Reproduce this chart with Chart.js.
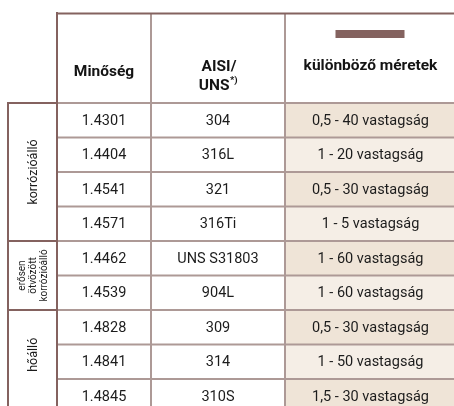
<!DOCTYPE html>
<html>
<head>
<meta charset="utf-8">
<script src="https://cdn.jsdelivr.net/npm/chart.js"></script>
<style>
  html, body { margin: 0; padding: 0; background: #fff; overflow: hidden; }
  canvas { display: block; }
</style>
</head>
<body>
<canvas id="table" width="460" height="420"></canvas>
<script>
// table content
const headers = ["Minőség", "AISI/", "különböző méretek"];
const groups = [["korrózióálló"], ["erősen", "ötvözött", "korrózióálló"], ["hőálló"]];
const groupSizes = [4, 2, 3];
const grades = ["1.4301", "1.4404", "1.4541", "1.4571", "1.4462", "1.4539", "1.4828", "1.4841", "1.4845"];
const aisi = ["304", "316L", "321", "316Ti", "UNS S31803", "904L", "309", "314", "310S"];
const sizes = ["0,5 - 40 vastagság", "1 - 20 vastagság", "0,5 - 30 vastagság", "1 - 5 vastagság",
  "1 - 60 vastagság", "1 - 60 vastagság", "0,5 - 30 vastagság", "1 - 50 vastagság", "1,5 - 30 vastagság"];

// layout
const colWidths = [49, 94, 134, 171];
const colEdges = colWidths.reduce((a, w) => { a.push(a[a.length - 1] + w); return a; }, [0]);
const headerHeight = 90;
const dark = "#84625f";
const light = "#ad9996";
const fillA = "#efe4d7";
const fillB = "#f5eee6";
const font = "Roboto";

const tablePlugin = {
  id: "tablePlugin",
  afterDatasetsDraw(chart) {
    const ctx = chart.ctx;
    const x = chart.scales.x, y = chart.scales.y;
    const top = chart.chartArea.top, bottom = chart.chartArea.bottom;
    const W = chart.width;
    const half = (y.getPixelForValue(1) - y.getPixelForValue(0)) / 2;
    const rowTop = i => y.getPixelForValue(i) - half;
    const cx = k => x.getPixelForValue(colEdges[k]);
    const mid = k => (cx(k) + cx(k + 1)) / 2;
    const hTop = top - headerHeight;

    function line(x1, y1, x2, y2, c, w) {
      ctx.beginPath();
      ctx.strokeStyle = c;
      ctx.lineWidth = w;
      ctx.moveTo(x1, y1);
      ctx.lineTo(x2, y2);
      ctx.stroke();
    }

    ctx.save();
    // row lines
    for (let i = 0; i <= grades.length; i++) {
      line(cx(1), rowTop(i), W, rowTop(i), light, 2);
    }
    // group lines
    let g = 0;
    line(cx(0), top, cx(1), top, dark, 2);
    groupSizes.forEach(s => { g += s; line(cx(0), rowTop(g), cx(1), rowTop(g), dark, 2); });
    // verticals
    line(cx(2), hTop, cx(2), bottom, light, 2);
    line(cx(3), hTop, cx(3), bottom, light, 2);
    line(cx(0), top - 1, cx(0), bottom, dark, 2);
    line(cx(1), hTop - 1, cx(1), bottom, dark, 2);
    line(cx(1), hTop + 0.5, W, hTop + 0.5, dark, 2);

    // header
    ctx.fillStyle = "#141414";
    ctx.textAlign = "center";
    ctx.textBaseline = "middle";
    ctx.font = "bold 15.5px " + font;
    ctx.fillText(headers[0], mid(1), hTop + 59);
    ctx.fillText(headers[1], mid(2) + 1, hTop + 54);
    ctx.fillText(headers[2], mid(3), hTop + 53);
    // UNS with superscript
    ctx.textAlign = "left";
    const w1 = ctx.measureText("UNS").width;
    ctx.font = "bold 9.5px " + font;
    const w2 = ctx.measureText("*)").width;
    const sx = mid(2) - (w1 + w2) / 2;
    ctx.font = "bold 15.5px " + font;
    ctx.fillText("UNS", sx, hTop + 73);
    ctx.font = "bold 9.5px " + font;
    ctx.fillText("*)", sx + w1 + 0.5, hTop + 68);
    // decorative bar
    ctx.fillStyle = "#84625f";
    ctx.fillRect(mid(3) - 35, hTop + 17, 69, 8);

    // body text
    ctx.fillStyle = "#1c1c1c";
    ctx.textAlign = "center";
    ctx.font = "14.5px " + font;
    grades.forEach((v, i) => {
      const yy = y.getPixelForValue(i) + 1;
      ctx.fillText(v, mid(1), yy);
      ctx.fillText(aisi[i], mid(2), yy);
      ctx.fillText(sizes[i], mid(3), yy);
    });

    // group labels (rotated)
    let start = 0;
    groups.forEach((lines, gi) => {
      const cyy = (rowTop(start) + rowTop(start + groupSizes[gi])) / 2;
      start += groupSizes[gi];
      const fs = lines.length > 1 ? 10 : 12.5;
      const lh = 11;
      ctx.save();
      ctx.translate(mid(0) + 1, gi === 2 ? cyy - 7 : cyy);
      ctx.rotate(-Math.PI / 2);
      ctx.font = fs + "px " + font;
      lines.forEach((t, li) => {
        ctx.fillText(t, 0, (li - (lines.length - 1) / 2) * lh);
      });
      ctx.restore();
    });
    ctx.restore();
  }
};

new Chart("table", {
  type: "bar",
  data: {
    labels: grades,
    datasets: [{
      data: grades.map(() => [colEdges[3], colEdges[4]]),
      backgroundColor: grades.map((_, i) => i % 2 === 0 ? fillA : fillB),
      borderWidth: 0,
      barPercentage: 1,
      categoryPercentage: 1
    }]
  },
  options: {
    indexAxis: "y",
    responsive: false,
    animation: false,
    devicePixelRatio: 1,
    layout: { padding: { left: 8, right: 4, top: 103, bottom: 6.5 } },
    plugins: { legend: { display: false }, tooltip: { enabled: false } },
    scales: {
      x: { type: "linear", min: colEdges[0], max: colEdges[4], display: false },
      y: { display: false }
    }
  },
  plugins: [tablePlugin]
});
</script>
</body>
</html>
